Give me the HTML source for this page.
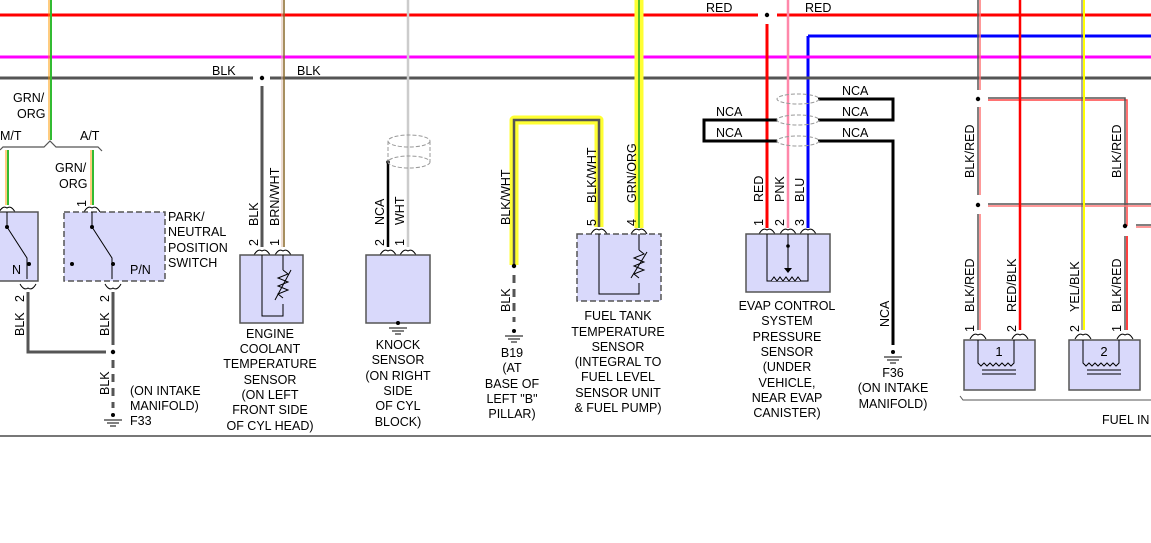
<!DOCTYPE html>
<html><head><meta charset="utf-8"><style>
body{margin:0;background:#fff;}
svg{display:block;font-family:"Liberation Sans",sans-serif;font-size:12.5px;}
text{fill:#000;}
</style></head><body>
<svg width="1151" height="543" viewBox="0 0 1151 543">
<defs>
<g id="pin"><path d="M-8,6 Q-4,-1 0,2 Q4,-1 8,6" fill="none" stroke="#000" stroke-width="1"/></g>
<g id="gnd"><circle cx="0" cy="0" r="2" fill="#000"/><path d="M-9,5H9M-6,8H6M-3,11H3" stroke="#000" stroke-width="1"/></g>
</defs>
<!-- top horizontal buses -->
<line x1="0" y1="15" x2="758" y2="15" stroke="#f00" stroke-width="3"/>
<line x1="777" y1="15" x2="1151" y2="15" stroke="#f00" stroke-width="3"/>
<line x1="808" y1="36" x2="1151" y2="36" stroke="#00f" stroke-width="3"/>
<line x1="808" y1="36" x2="808" y2="228" stroke="#00f" stroke-width="3"/>
<line x1="0" y1="57" x2="1151" y2="57" stroke="#f0f" stroke-width="3"/>
<line x1="0" y1="78" x2="253" y2="78" stroke="#555" stroke-width="3"/>
<line x1="270" y1="78" x2="1151" y2="78" stroke="#555" stroke-width="3"/>
<text x="212" y="75">BLK</text><text x="297" y="75">BLK</text>
<circle cx="262" cy="78" r="2.2" fill="#000"/>
<text x="706" y="12">RED</text><text x="805" y="12">RED</text>
<circle cx="767" cy="15" r="2.2" fill="#000"/>
<!-- left GRN/ORG -->
<line x1="49" y1="0" x2="49" y2="140" stroke="#f90" stroke-width="1"/>
<line x1="51" y1="0" x2="51" y2="140" stroke="#3b3" stroke-width="2"/>
<text x="13" y="102">GRN/</text><text x="17" y="118">ORG</text>
<path d="M0,150 L3,147 H44 L50,141 L56,147 H98 L102,151" fill="none" stroke="#555" stroke-width="1.2"/>
<text x="0" y="140">M/T</text><text x="80" y="140">A/T</text>
<line x1="6" y1="150" x2="6" y2="205" stroke="#f90" stroke-width="1"/><line x1="8" y1="150" x2="8" y2="205" stroke="#3b3" stroke-width="2"/>
<line x1="91" y1="150" x2="91" y2="205" stroke="#f90" stroke-width="1"/><line x1="93" y1="150" x2="93" y2="205" stroke="#3b3" stroke-width="2"/>
<text x="55" y="172">GRN/</text><text x="59" y="188">ORG</text>
<text transform="translate(86,207) rotate(-90)">1</text>
<use href="#pin" x="92" y="206"/><use href="#pin" x="7" y="206"/>
<rect x="-2" y="212" width="40" height="69" fill="#d9d9fb" stroke="#555" stroke-width="1.5"/>
<rect x="64" y="212" width="101" height="69" fill="#d9d9fb" stroke="#555" stroke-width="1.5" stroke-dasharray="6,3"/>
<path d="M7,212V227L27,258V279M92,212V227L112,258V279" stroke="#000" fill="none"/>
<circle cx="7" cy="227" r="2" fill="#000"/><circle cx="92" cy="227" r="2" fill="#000"/>
<circle cx="29" cy="264" r="2" fill="#000"/><circle cx="113" cy="264" r="2" fill="#000"/><circle cx="72" cy="264" r="2" fill="#000"/>
<text x="12" y="274">N</text><text x="130" y="274">P/N</text>
<text x="168" y="221">PARK/</text><text x="168" y="236">NEUTRAL</text><text x="168" y="252">POSITION</text><text x="168" y="267">SWITCH</text>
<use href="#pin" x="28" y="290" transform="rotate(180,28,290)"/><use href="#pin" x="113" y="290" transform="rotate(180,113,290)"/>
<path d="M28,292V352H106" stroke="#555" stroke-width="3" fill="none"/>
<line x1="113" y1="292" x2="113" y2="345" stroke="#555" stroke-width="3"/>
<circle cx="113" cy="352" r="2.2" fill="#000"/>
<line x1="113" y1="360" x2="113" y2="408" stroke="#555" stroke-width="3" stroke-dasharray="8,6"/>
<use href="#gnd" x="113" y="415"/>
<text transform="translate(24,302) rotate(-90)">2</text><text transform="translate(109,302) rotate(-90)">2</text>
<text transform="translate(24,336) rotate(-90)">BLK</text><text transform="translate(109,336) rotate(-90)">BLK</text>
<text transform="translate(109,395) rotate(-90)">BLK</text>
<text x="130" y="395">(ON INTAKE</text><text x="130" y="410">MANIFOLD)</text><text x="130" y="425">F33</text>
<!-- ECT -->
<line x1="262" y1="86" x2="262" y2="247" stroke="#555" stroke-width="3"/>
<line x1="282" y1="0" x2="282" y2="247" stroke="#dba" stroke-width="1"/><line x1="284" y1="0" x2="284" y2="247" stroke="#8a6a2a" stroke-width="1.5"/>
<text transform="translate(258,246) rotate(-90)">2</text><text transform="translate(279,246) rotate(-90)">1</text>
<text transform="translate(258,226) rotate(-90)">BLK</text><text transform="translate(279,226) rotate(-90)">BRN/WHT</text>
<use href="#pin" x="262" y="249"/><use href="#pin" x="283" y="249"/>
<rect x="240" y="255" width="63" height="68" fill="#d9d9fb" stroke="#555" stroke-width="1.5"/>
<path d="M262,255V316H283V304M283,255V270" stroke="#000" fill="none"/>
<path d="M283,270 l5,4 -10,4 10,4 -10,4 10,4 -10,4 5,4" stroke="#000" fill="none"/>
<line x1="275" y1="300" x2="291" y2="270" stroke="#000"/>
<g text-anchor="middle"><text x="270" y="338">ENGINE</text><text x="270" y="353">COOLANT</text><text x="270" y="368">TEMPERATURE</text><text x="270" y="384">SENSOR</text><text x="270" y="399">(ON LEFT</text><text x="270" y="414">FRONT SIDE</text><text x="270" y="430">OF CYL HEAD)</text></g>
<!-- knock -->
<line x1="408" y1="0" x2="408" y2="247" stroke="#ccc" stroke-width="2.5"/>
<line x1="388" y1="162" x2="388" y2="247" stroke="#000" stroke-width="2.5"/>
<circle cx="388" cy="162" r="1.8" fill="#000"/>
<g fill="none" stroke="#999" stroke-dasharray="4,2"><ellipse cx="409" cy="141" rx="21" ry="6"/><ellipse cx="409" cy="162" rx="21" ry="6"/><line x1="388" y1="141" x2="388" y2="162"/><line x1="430" y1="141" x2="430" y2="162"/></g>
<text transform="translate(384,246) rotate(-90)">2</text><text transform="translate(404,246) rotate(-90)">1</text>
<text transform="translate(384,225) rotate(-90)">NCA</text><text transform="translate(404,225) rotate(-90)">WHT</text>
<use href="#pin" x="388" y="249"/><use href="#pin" x="408" y="249"/>
<rect x="366" y="255" width="64" height="68" fill="#d9d9fb" stroke="#555" stroke-width="1.5"/>
<use href="#gnd" x="398" y="323"/>
<g text-anchor="middle"><text x="398" y="349">KNOCK</text><text x="398" y="364">SENSOR</text><text x="398" y="380">(ON RIGHT</text><text x="398" y="395">SIDE</text><text x="398" y="410">OF CYL</text><text x="398" y="426">BLOCK)</text></g>
<!-- B19 / fuel tank -->
<path d="M514,265V120H599V227" stroke="#ff3" stroke-width="9" fill="none" stroke-linejoin="round"/>
<path d="M514,265V120H599V227" stroke="#555" stroke-width="2.5" fill="none"/>
<line x1="639" y1="0" x2="639" y2="228" stroke="#ff3" stroke-width="9"/>
<line x1="639" y1="0" x2="639" y2="228" stroke="#2a2" stroke-width="1.5"/>
<circle cx="514" cy="266" r="2.2" fill="#000"/>
<line x1="514" y1="275" x2="514" y2="322" stroke="#555" stroke-width="3" stroke-dasharray="8,6"/>
<use href="#gnd" x="514" y="331"/>
<text transform="translate(510,225) rotate(-90)">BLK/WHT</text>
<text transform="translate(510,312) rotate(-90)">BLK</text>
<text transform="translate(596,203) rotate(-90)">BLK/WHT</text><text transform="translate(636,203) rotate(-90)">GRN/ORG</text>
<text transform="translate(596,226) rotate(-90)">5</text><text transform="translate(636,226) rotate(-90)">4</text>
<use href="#pin" x="599" y="228"/><use href="#pin" x="639" y="228"/>
<rect x="577" y="234" width="84" height="67" fill="#d9d9fb" stroke="#555" stroke-width="1.5" stroke-dasharray="6,3"/>
<path d="M599,234V294H639V283M639,234V250" stroke="#000" fill="none"/>
<path d="M639,250 l5,4 -10,4 10,4 -10,4 10,4 -10,4 5,4" stroke="#000" fill="none"/>
<line x1="631" y1="278" x2="647" y2="252" stroke="#000"/>
<g text-anchor="middle"><text x="512" y="357">B19</text><text x="512" y="372">(AT</text><text x="512" y="388">BASE OF</text><text x="512" y="403">LEFT "B"</text><text x="512" y="418">PILLAR)</text>
<text x="618" y="320">FUEL TANK</text><text x="618" y="336">TEMPERATURE</text><text x="618" y="351">SENSOR</text><text x="618" y="366">(INTEGRAL TO</text><text x="618" y="381">FUEL LEVEL</text><text x="618" y="397">SENSOR UNIT</text><text x="618" y="412">&amp; FUEL PUMP)</text></g>
<!-- EVAP -->
<line x1="767" y1="24" x2="767" y2="228" stroke="#f00" stroke-width="3"/>
<line x1="788" y1="0" x2="788" y2="228" stroke="#f8a" stroke-width="2.5"/>
<path d="M818,99H893V120H818M777,120H704V141H777M818,141H893V345" stroke="#000" stroke-width="3" fill="none"/>
<g fill="none" stroke="#999" stroke-dasharray="4,2"><ellipse cx="798" cy="99" rx="21" ry="5"/><ellipse cx="798" cy="120" rx="21" ry="5"/><ellipse cx="798" cy="141" rx="21" ry="5"/></g>
<text x="842" y="95">NCA</text><text x="842" y="116">NCA</text><text x="842" y="137">NCA</text><text x="716" y="116">NCA</text><text x="716" y="137">NCA</text>
<text transform="translate(763,202) rotate(-90)">RED</text><text transform="translate(784,202) rotate(-90)">PNK</text><text transform="translate(804,202) rotate(-90)">BLU</text>
<text transform="translate(763,226) rotate(-90)">1</text><text transform="translate(784,226) rotate(-90)">2</text><text transform="translate(804,226) rotate(-90)">3</text>
<use href="#pin" x="767" y="228"/><use href="#pin" x="788" y="228"/><use href="#pin" x="808" y="228"/>
<rect x="746" y="234" width="84" height="58" fill="#d9d9fb" stroke="#555" stroke-width="1.5"/>
<path d="M767,234V281H808V234M788,234V270" stroke="#000" fill="none"/>
<circle cx="788" cy="246" r="1.8" fill="#000"/><path d="M784,268h8l-4,5z" fill="#000"/>
<path d="M771,281l3,-4 3,4 3,-4 3,4 3,-4 3,4 3,-4 3,4 3,-4 3,4" stroke="#000" fill="#d9d9fb"/>
<g text-anchor="middle"><text x="787" y="310">EVAP CONTROL</text><text x="787" y="325">SYSTEM</text><text x="787" y="341">PRESSURE</text><text x="787" y="356">SENSOR</text><text x="787" y="371">(UNDER</text><text x="787" y="387">VEHICLE,</text><text x="787" y="402">NEAR EVAP</text><text x="787" y="417">CANISTER)</text>
<text x="893" y="377">F36</text><text x="893" y="392">(ON INTAKE</text><text x="893" y="408">MANIFOLD)</text></g>
<text transform="translate(889,327) rotate(-90)">NCA</text>
<use href="#gnd" x="893" y="352"/>
<!-- right section -->
<g stroke-width="1.5">
<line x1="980" y1="0" x2="980" y2="90" stroke="#f77"/><line x1="978" y1="0" x2="978" y2="90" stroke="#555"/>
<line x1="980" y1="107" x2="980" y2="195" stroke="#f77"/><line x1="978" y1="107" x2="978" y2="195" stroke="#555"/>
<line x1="980" y1="214" x2="980" y2="330" stroke="#f77"/><line x1="978" y1="214" x2="978" y2="330" stroke="#555"/>
<path d="M988,100H1127V226" stroke="#f44" fill="none"/><path d="M988,98H1125V226" stroke="#555" fill="none"/>
<path d="M988,206H1151" stroke="#f77"/><path d="M988,204H1151" stroke="#555"/>
<path d="M1127,236V330" stroke="#f00"/><path d="M1125,236V330" stroke="#555"/>
<path d="M1136,227H1151" stroke="#f77"/><path d="M1136,225H1151" stroke="#555"/>
</g>
<line x1="1020" y1="0" x2="1020" y2="330" stroke="#f00" stroke-width="2.5"/>
<line x1="1082" y1="0" x2="1082" y2="330" stroke="#555" stroke-width="1"/><line x1="1084" y1="0" x2="1084" y2="330" stroke="#ff0" stroke-width="2"/>
<circle cx="978" cy="99" r="2.2" fill="#000"/><circle cx="978" cy="205" r="2.2" fill="#000"/><circle cx="1125" cy="226" r="2.2" fill="#000"/>
<text transform="translate(974,178) rotate(-90)">BLK/RED</text><text transform="translate(1121,178) rotate(-90)">BLK/RED</text>
<text transform="translate(974,312) rotate(-90)">BLK/RED</text><text transform="translate(1016,312) rotate(-90)">RED/BLK</text><text transform="translate(1079,312) rotate(-90)">YEL/BLK</text><text transform="translate(1121,312) rotate(-90)">BLK/RED</text>
<text transform="translate(974,332) rotate(-90)">1</text><text transform="translate(1016,332) rotate(-90)">2</text><text transform="translate(1079,332) rotate(-90)">2</text><text transform="translate(1121,332) rotate(-90)">1</text>
<use href="#pin" x="978" y="333"/><use href="#pin" x="1020" y="333"/><use href="#pin" x="1083" y="333"/><use href="#pin" x="1125" y="333"/>
<rect x="964" y="340" width="71" height="50" fill="#d9d9fb" stroke="#555" stroke-width="1.5"/>
<rect x="1069" y="340" width="71" height="50" fill="#d9d9fb" stroke="#555" stroke-width="1.5"/>
<g stroke="#000" fill="none">
<path d="M978,340V363l3,3 3,-3 3,3 3,-3 3,3 3,-3 3,3 3,-3 3,3 3,-3 3,3 3,-3V340M982,370h34M982,374h34"/>
<path d="M1083,340V363l3,3 3,-3 3,3 3,-3 3,3 3,-3 3,3 3,-3 3,3 3,-3 3,3 3,-3V340M1087,370h34M1087,374h34"/>
</g>
<text x="999" y="356" text-anchor="middle" font-size="13">1</text><text x="1104" y="356" text-anchor="middle" font-size="13">2</text>
<path d="M960,396L963,400H1151" stroke="#555" fill="none"/>
<text x="1102" y="424">FUEL IN</text>
<line x1="0" y1="436" x2="1151" y2="436" stroke="#777" stroke-width="2"/>
</svg>
</body></html>
